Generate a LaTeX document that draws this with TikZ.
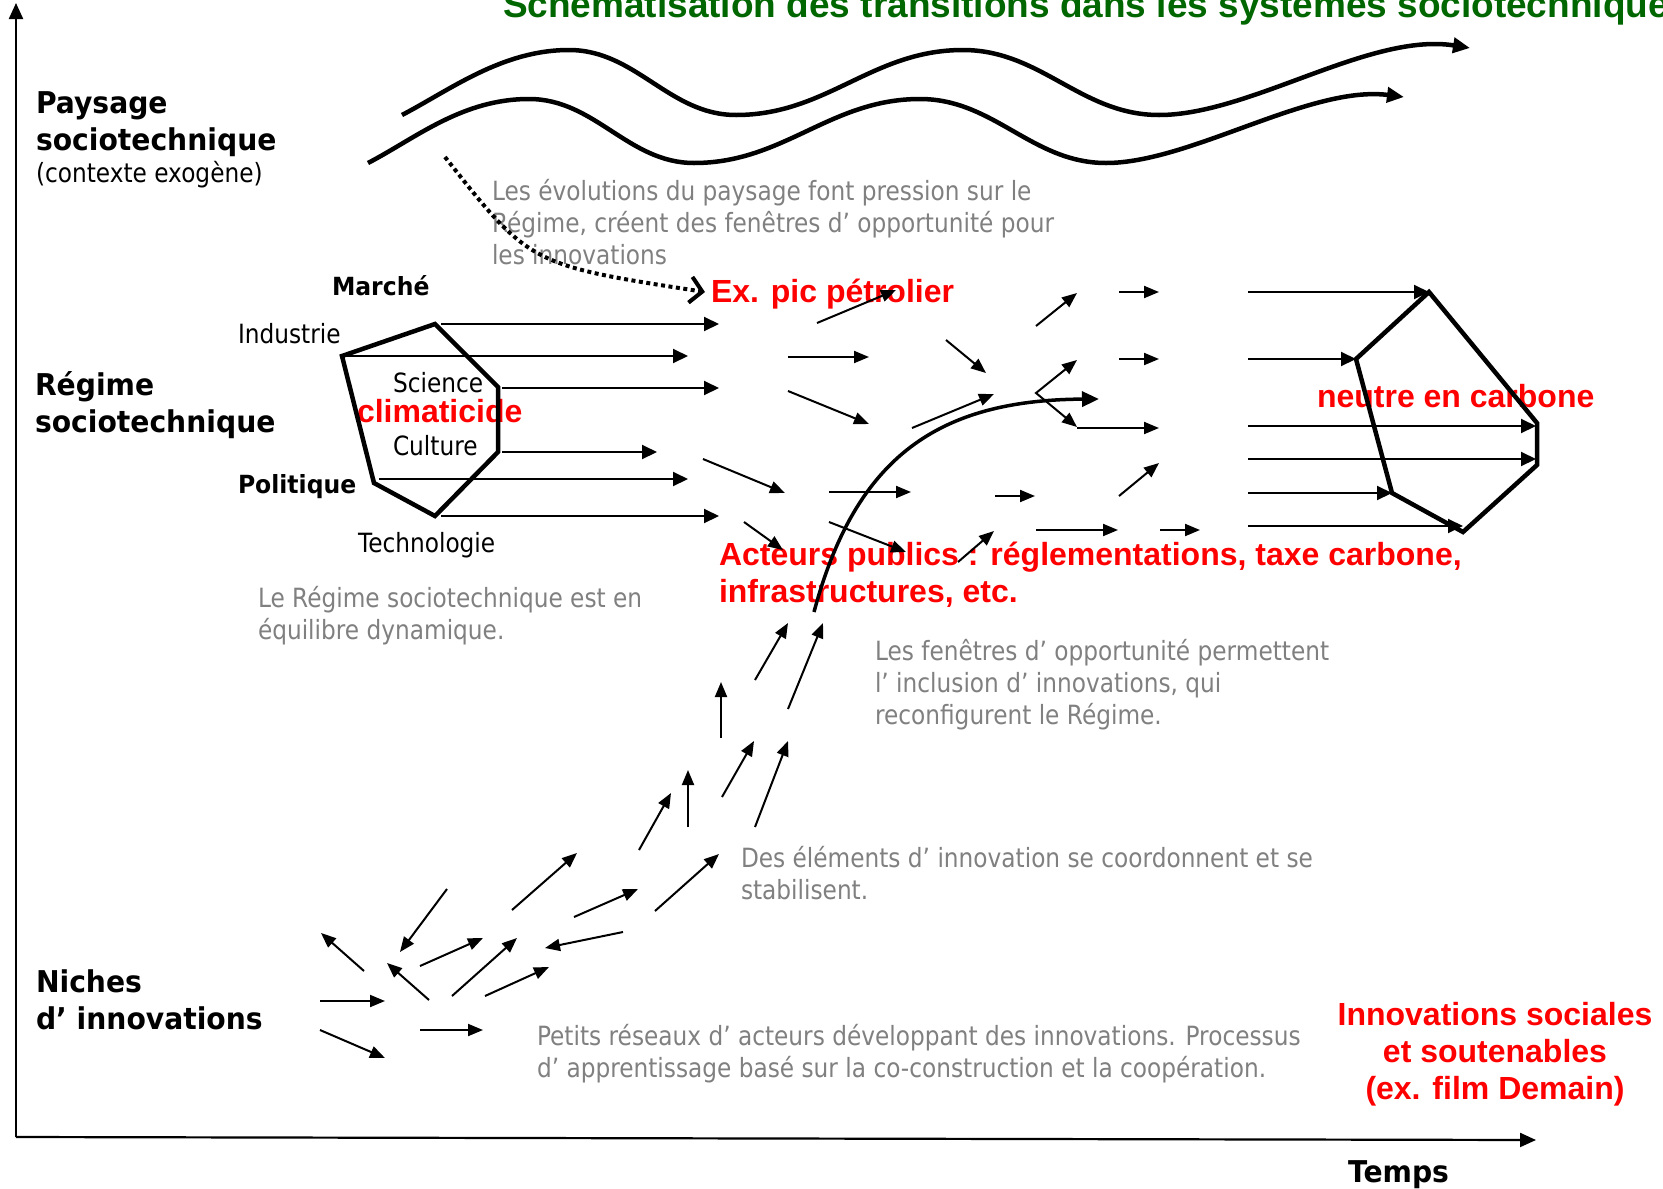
\documentclass[tikz,border=0pt]{standalone}
\usepackage{fontspec}
\usetikzlibrary{arrows.meta}
\newfontfamily\tah[FakeStretch=0.877]{DejaVu Sans}
\newfontfamily\tahbf[FakeStretch=0.94]{DejaVu Sans}
\newfontfamily\ari{Liberation Sans}
\definecolor{titlegreen}{RGB}{0,102,0}
\definecolor{txtgray}{RGB}{128,128,128}
\definecolor{redtxt}{RGB}{255,0,0}
\begin{document}
\begin{tikzpicture}[x=1pt,y=-1pt,
  lbl/.style={inner sep=0pt,outer sep=0pt},
  graytxt/.style={lbl,anchor=north west,align=left,text=txtgray,font=\tah\fontsize{26.5}{32}\selectfont},
  bigbold/.style={lbl,anchor=north west,align=left,font=\tahbf\bfseries\fontsize{30}{37}\selectfont},
  smallbold/.style={lbl,anchor=base west,font=\tahbf\bfseries\fontsize{25}{30}\selectfont},
  plaintxt/.style={lbl,anchor=base west,font=\tah\fontsize{26.5}{32}\selectfont},
  redtext/.style={lbl,text=redtxt,font=\ari\bfseries\fontsize{32}{37}\selectfont},
  arr/.style={line width=2pt,-{Triangle[length=15pt,width=12pt]}},
  polyarr/.style={line width=2pt,-{Triangle[length=15pt,width=14pt]}},
  axisarr/.style={line width=2.2pt,-{Triangle[length=16pt,width=14pt]}},
  wavearr/.style={line width=4.5pt,-{Triangle[length=17pt,width=15pt]}},
  polyline/.style={line width=4.5pt,line join=miter},
]
\fill[white] (0,0) rectangle (1663,1189);
\useasboundingbox (0,0) rectangle (1663,1189);

% ---------- texts ----------
\node[lbl,anchor=base west,text=titlegreen,font=\ari\bfseries\fontsize{37}{44}\selectfont] (title) at (503,17) {Schématisation des transitions dans les systèmes sociotechniques};

\node[bigbold] (paysage) at (36,87.1) {\strut Paysage\\sociotechnique};
\node[plaintxt] (exogene) at (36,182) {(contexte exogène)};
\node[bigbold] (regime) at (35,369.1) {\strut Régime\\sociotechnique};
\node[bigbold] (niches) at (36,966.1) {\strut Niches\\d’ innovations};
\node[lbl,anchor=base west,font=\tahbf\bfseries\fontsize{30}{37}\selectfont] (temps) at (1348,1182) {Temps};

\node[graytxt] (g1) at (492,177.6) {\strut Les évolutions du paysage font pression sur le\\Régime, créent des fenêtres d’ opportunité pour\\les innovations};
\node[graytxt] (g2) at (258,584.6) {\strut Le Régime sociotechnique est en\\équilibre dynamique.};
\node[graytxt] (g3) at (875,637.6) {\strut Les fenêtres d’ opportunité permettent\\l’ inclusion d’ innovations, qui\\reconfigurent le Régime.};
\node[graytxt] (g4) at (741,844.6) {\strut Des éléments d’ innovation se coordonnent et se\\stabilisent.};
\node[graytxt] (g5) at (537,1022.6) {\strut Petits réseaux d’ acteurs développant des innovations. Processus\\d’ apprentissage basé sur la co-construction et la coopération.};

\node[smallbold] (marche) at (332,295) {Marché};
\node[plaintxt] (industrie) at (238,343) {Industrie};
\node[plaintxt] (science) at (393,392) {Science};
\node[plaintxt] (culture) at (393,455) {Culture};
\node[smallbold] (politique) at (238,493) {Politique};
\node[plaintxt] (techno) at (358,552) {Technologie};

\node[redtext,anchor=base west] (climat) at (357,422) {climaticide};
\node[redtext,anchor=base west] (pic) at (711,302) {Ex. pic pétrolier};
\node[redtext,anchor=base west] (neutre) at (1317,407) {neutre en carbone};
\node[redtext,anchor=north west,align=left] (acteurs) at (719,540) {\strut Acteurs publics : réglementations, taxe carbone,\\infrastructures, etc.};
\node[redtext,anchor=north,align=center,font=\ari\bfseries\fontsize{32}{37}\selectfont] (innov) at (1495,999.1) {\strut Innovations sociales\\et soutenables\\(ex. film Demain)};

% ---------- axes ----------
\coordinate (origin) at (16,1137);
\coordinate (ytop) at (16,3);
\coordinate (xend) at (1536,1140);
\draw[axisarr] (origin) -- (ytop);
\draw[axisarr] (origin) -- (xend);

% ---------- landscape waves ----------
\draw[wavearr] (402,115) .. controls (450,90) and (502,50) .. (569,50)
  .. controls (636,50) and (669,115) .. (736,115)
  .. controls (827,115) and (872,50) .. (963,50)
  .. controls (1041,50) and (1081,115) .. (1159,115)
  .. controls (1250,115) and (1370,32) .. (1470,48);
\draw[wavearr] (368,163) .. controls (416,138) and (462,99) .. (529,99)
  .. controls (595,99) and (628,163) .. (694,163)
  .. controls (784,163) and (830,99) .. (920,99)
  .. controls (994,99) and (1032,163) .. (1106,163)
  .. controls (1190,163) and (1310,85) .. (1404,97);

% dotted pressure arrow
\draw[line width=4pt,dash pattern=on 4pt off 3.5pt,-{Straight Barb[length=12pt,width=26pt]}] (445,157) .. controls (530,265) .. (705,292);

% ---------- regime polygon (left) ----------
\draw[polyline] (435,324) -- (498,387) -- (498,452) -- (435,516) -- (374,483) -- (342,356) -- cycle;
\draw[polyarr] (441,324) -- (719,324);
\draw[polyarr] (342,356) -- (688,356);
\draw[polyarr] (502,388) -- (719,388);
\draw[polyarr] (502,452) -- (657,452);
\draw[polyarr] (379,479) -- (688,479);
\draw[polyarr] (441,516) -- (719,516);

% ---------- middle field ----------
\draw[arr] (817,323) -- (896,290);
\draw[arr] (788,357) -- (869,357);
\draw[arr] (788,391) -- (869,424);
\draw[arr] (946,340) -- (986,373);
\draw[arr] (912,428) -- (994,394);
\draw[arr] (1036,326) -- (1077,293);
\draw[arr] (1119,292) -- (1159,292);
\draw[arr] (1119,359) -- (1159,359);
\draw[line width=2pt,{Triangle[length=15pt,width=12pt]}-{Triangle[length=15pt,width=12pt]}] (1077,360) -- (1036,393) -- (1077,427);
\draw[arr] (1077,428) -- (1159,428);
\draw[arr] (703,459) -- (785,493);
\draw[arr] (829,492) -- (911,492);
\draw[arr] (995,496) -- (1035,496);
\draw[arr] (1119,496) -- (1159,463);
\draw[arr] (744,522) -- (783,550);
\draw[arr] (829,522) -- (906,552);
\draw[arr] (958,562) -- (994,531);
\draw[arr] (1036,530) -- (1118,530);
\draw[arr] (1160,530) -- (1200,530);

% thick emergence curve
\draw[line width=3.5pt,-{Triangle[length=17pt,width=15pt]}] (814,612) .. controls (856,455) and (940,400) .. (1099,399);

% ---------- right polygon ----------
\draw[polyarr] (1248,292) -- (1429,292);
\draw[polyarr] (1248,359) -- (1356,359);
\draw[polyarr] (1248,426) -- (1536,426);
\draw[polyarr] (1248,459) -- (1536,459);
\draw[polyarr] (1248,493) -- (1392,493);
\draw[polyarr] (1248,526) -- (1463,526);
\draw[polyline] (1429,292) -- (1537,423) -- (1537,465) -- (1463,532) -- (1392,493) -- (1356,359) -- cycle;

% ---------- niche arrows ----------
\draw[arr] (788,709) -- (823,623);
\draw[arr] (755,680) -- (788,623);
\draw[arr] (721,738) -- (721,682);
\draw[arr] (755,827) -- (788,741);
\draw[arr] (722,797) -- (754,741);
\draw[arr] (688,827) -- (688,770);
\draw[arr] (639,850) -- (671,793);
\draw[arr] (655,911) -- (719,854);
\draw[arr] (574,917) -- (638,889);
\draw[arr] (512,910) -- (577,853);
\draw[arr] (623,932) -- (545,948);
\draw[arr] (447,889) -- (400,952);
\draw[arr] (364,971) -- (321,933);
\draw[arr] (429,1000) -- (387,963);
\draw[arr] (420,966) -- (483,938);
\draw[arr] (452,996) -- (517,938);
\draw[arr] (485,996) -- (549,967);
\draw[arr] (320,1001) -- (385,1001);
\draw[arr] (320,1030) -- (385,1058);
\draw[arr] (420,1030) -- (483,1030);
\end{tikzpicture}
\end{document}
